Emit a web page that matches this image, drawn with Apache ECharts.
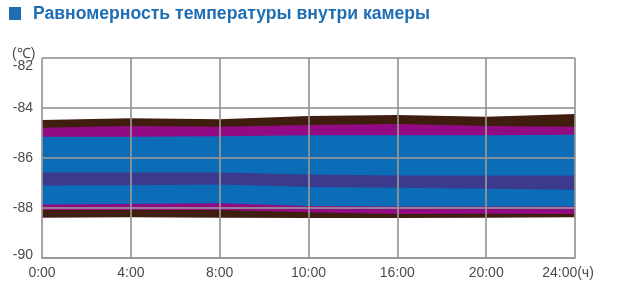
<!DOCTYPE html>
<html>
<head>
<meta charset="utf-8">
<script src="https://cdn.jsdelivr.net/npm/echarts@6/dist/echarts.min.js"></script>
<style>html,body{margin:0;padding:0;background:#fff}#c{width:621px;height:295px}</style>
</head>
<body>
<div id="c"></div>
<script>
// Categories (time)
var categories = ['0:00', '4:00', '8:00', '10:00', '16:00', '20:00', '24:00(ч)'];
var yTicks = [-90, -88, -86, -84, -82];
var yUnit = '(℃)';
// Band boundaries (°C), from top to bottom
var brownTopUpper   = [-84.48, -84.41, -84.45, -84.32, -84.28, -84.35, -84.24];
var purpleTopUpper  = [-84.79, -84.72, -84.75, -84.68, -84.64, -84.72, -84.75];
var blueTopUpper    = [-85.15, -85.15, -85.13, -85.09, -85.09, -85.09, -85.07];
var indigoUpper     = [-86.58, -86.58, -86.58, -86.66, -86.70, -86.70, -86.70];
var blueLowUpper    = [-87.10, -87.09, -87.06, -87.16, -87.19, -87.23, -87.27];
var purpleLowUpper  = [-87.86, -87.84, -87.81, -87.92, -87.94, -87.94, -87.94];
var brownLowUpper   = [-88.08, -88.08, -88.08, -88.17, -88.24, -88.23, -88.24];
var brownLowLower   = [-88.39, -88.37, -88.39, -88.40, -88.40, -88.39, -88.37];

var bands = [
  {data: brownTopUpper,  color: '#3f1e10'},
  {data: purpleTopUpper, color: '#920b84'},
  {data: blueTopUpper,   color: '#0b6cb7'},
  {data: indigoUpper,    color: '#3c3a8d'},
  {data: blueLowUpper,   color: '#0b6cb7'},
  {data: purpleLowUpper, color: '#920b84'},
  {data: brownLowUpper,  color: '#3f1e10'},
  {data: brownLowLower,  color: '#ffffff'}
];

var FONT = 'Liberation Sans, Arial, sans-serif';
var gridColor = 'rgba(150,150,150,0.85)';
var chart = echarts.init(document.getElementById('c'), null, {renderer: 'canvas'});
chart.setOption({
  animation: false,
  title: {
    text: 'Равномерность температуры внутри камеры',
    left: 28, top: 0,
    textStyle: {color: '#1f6db3', fontSize: 17.6, fontWeight: 'bold', fontFamily: FONT}
  },
  graphic: [
    {type: 'rect', left: 9, top: 7, shape: {width: 12, height: 13}, style: {fill: '#1f6db3'}},
    {type: 'text', left: 12, top: 47, style: {text: yUnit, fill: '#4a4a4a', font: '14px ' + FONT}}
  ],
  grid: {left: 42, right: 46, top: 58, bottom: 37},
  xAxis: {
    type: 'category', boundaryGap: false, z: 10,
    data: categories.map(function (c, i) {
      return i === categories.length - 1 ? {value: c, textStyle: {padding: [0, 14, 0, 0]}} : c;
    }),
    axisLine: {show: true, lineStyle: {color: gridColor, width: 2}},
    axisTick: {show: false},
    axisLabel: {color: '#4a4a4a', fontSize: 14, margin: 8, fontFamily: FONT, showMaxLabel: true, showMinLabel: true},
    splitLine: {show: true, lineStyle: {color: gridColor, width: 2}}
  },
  yAxis: {
    type: 'value', min: -90, max: -82, interval: 2, z: 10,
    axisLine: {show: false},
    axisTick: {show: false},
    axisLabel: {
      color: '#4a4a4a', fontSize: 14, margin: 9, fontFamily: FONT,
      formatter: function (v) {
        if (v === -82) return '{dn|' + v + '}';
        if (v === -90) return '{up|' + v + '}';
        return '' + v;
      },
      rich: {
        dn: {color: '#4a4a4a', fontSize: 14, fontFamily: FONT, padding: [16, 0, 0, 0]},
        up: {color: '#4a4a4a', fontSize: 14, fontFamily: FONT, padding: [0, 0, 6, 0]}
      }
    },
    splitLine: {show: true, lineStyle: {color: gridColor, width: 2}}
  },
  series: bands.map(function (b) {
    return {
      type: 'line', data: b.data, symbol: 'none', silent: true,
      lineStyle: {width: 0},
      areaStyle: {color: b.color, opacity: 1, origin: 'start'}
    };
  })
});
</script>
</body>
</html>
